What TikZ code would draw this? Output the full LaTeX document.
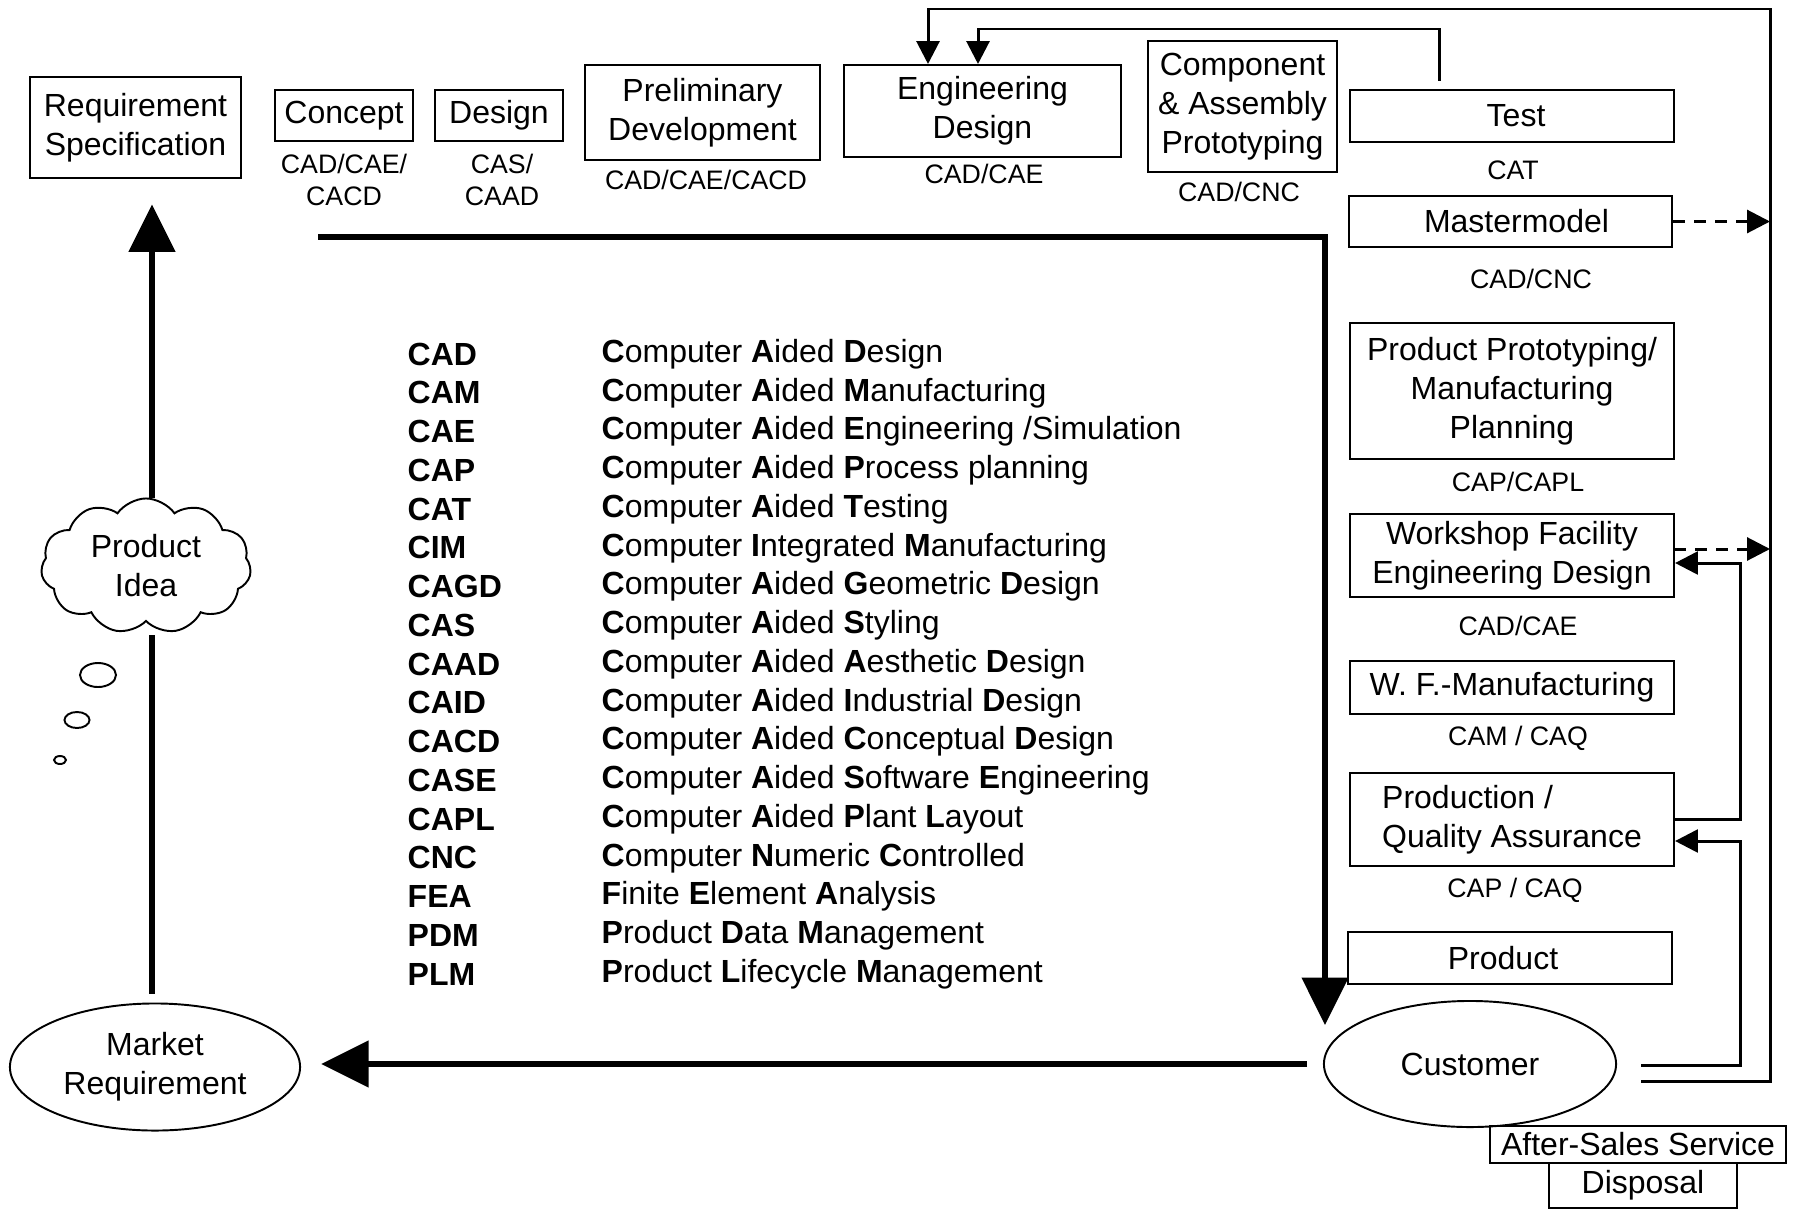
\documentclass[tikz,border=0pt]{standalone}
\usepackage{fontspec}
\setmainfont{Liberation Sans}
\usetikzlibrary{arrows.meta,shapes.geometric,shapes.symbols,calc}
\newcommand\bxf{\fontsize{9.1}{11.1}\selectfont}
\newcommand\lbf{\fontsize{7.6}{9.1}\selectfont}
\newcommand\lgf{\fontsize{9.1}{11}\selectfont}
\begin{document}
\begin{tikzpicture}[x=0.01cm,y=-0.01cm,
 box/.style={draw, line width=0.55pt, inner sep=0pt, align=center, font=\bxf},
 lbl/.style={inner sep=0pt, align=center, font=\lbf},
 oval/.style={draw, ellipse, line width=0.55pt, inner sep=0pt, align=center, font=\bxf},
 thk/.style={line width=1.6pt},
 thn/.style={line width=0.85pt},
 bigtip/.style={-{Triangle[length=13.5pt,width=13pt]}},
 smtip/.style={-{Triangle[length=6.5pt,width=6.5pt]}},
 dsh/.style={thn, dash pattern=on 3.4pt off 2.6pt},
 abbr/.style={anchor=west, inner sep=0pt, font=\lgf\bfseries},
 defn/.style={anchor=west, inner sep=0pt, font=\lgf}]
\useasboundingbox (0,0) rectangle (1794,1212);

% top row
\node[box, minimum width=2.11cm, minimum height=1.01cm] (reqspec) at (135.5,127.5) {Requirement\\Specification};
\node[box, minimum width=1.38cm, minimum height=0.51cm] (concept) at (344,115.5) {Concept};
\node[lbl] (conceptl) at (344,180) {CAD/CAE/\\CACD};
\node[box, minimum width=1.28cm, minimum height=0.51cm] (design) at (499,115.5) {Design};
\node[lbl] (designl) at (502,180) {CAS/\\CAAD};
\node[box, minimum width=2.35cm, minimum height=0.95cm] (prelim) at (702.5,112.5) {Preliminary\\Development};
\node[lbl] (preliml) at (706,180) {CAD/CAE/CACD};
\node[box, minimum width=2.77cm, minimum height=0.92cm] (engdes) at (982.5,111) {Engineering\\Design};
\node[lbl] (engdesl) at (984,174) {CAD/CAE};
\node[box, minimum width=1.89cm, minimum height=1.31cm] (comp) at (1242.5,106.5) {Component\\\& Assembly\\Prototyping};
\node[lbl] (compl) at (1239,192) {CAD/CNC};

% right column
\node[box, minimum width=3.24cm, minimum height=0.52cm] (test) at (1512,116) {\hspace*{0.08cm}Test};
\node[lbl] (testl) at (1513,170) {CAT};
\node[box, minimum width=3.23cm, minimum height=0.51cm] (master) at (1510.5,221.5) {\hspace*{0.12cm}Mastermodel};
\node[lbl] (masterl) at (1531,279) {CAD/CNC};
\node[box, minimum width=3.24cm, minimum height=1.36cm] (pproto) at (1512,391) {Product Prototyping/\\Manufacturing\\Planning};
\node[lbl] (pprotol) at (1518,482) {CAP/CAPL};
\node[box, minimum width=3.24cm, minimum height=0.83cm] (workshop) at (1512,555.5) {Workshop Facility\\Engineering Design};
\node[lbl] (workshopl) at (1518,626) {CAD/CAE};
\node[box, minimum width=3.24cm, minimum height=0.53cm] (wfman) at (1512,687.5) {W. F.-Manufacturing};
\node[lbl] (wfmanl) at (1518,738) {CAM / CAQ};
\node[box, align=left, minimum width=3.24cm, minimum height=0.93cm] (prodqa) at (1512,819.5) {Production /\\Quality Assurance};
\node[lbl] (prodqal) at (1515,890) {CAP / CAQ};
\node[box, minimum width=3.24cm, minimum height=0.52cm] (product) at (1510,958) {Product\hspace*{0.14cm}};

% bottom
\node[oval, minimum width=2.92cm, minimum height=1.26cm] (customer) at (1470,1064) {Customer};
\node[box, minimum width=2.96cm, minimum height=0.37cm] (after) at (1638,1144.5) {After-Sales Service};
\node[box, minimum width=1.88cm, minimum height=0.45cm] (disposal) at (1643,1185.5) {Disposal};
\node[oval, minimum width=2.9cm, minimum height=1.27cm] (market) at (155,1067) {Market\\Requirement};

% left: idea cloud and bubbles
\coordinate (lx) at (152,0);
\node[cloud, draw, fill=white, line width=0.55pt, cloud puffs=11, cloud puff arc=110, aspect=1.5,
      minimum width=2.1cm, minimum height=1.35cm, inner sep=0pt, align=center, font=\bxf] (idea) at (146,566) {Product\\Idea};
\node[draw, ellipse, line width=0.55pt, minimum width=0.36cm, minimum height=0.24cm, inner sep=0pt] (b1) at (98,675) {};
\node[draw, ellipse, line width=0.55pt, minimum width=0.25cm, minimum height=0.16cm, inner sep=0pt] (b2) at (77,720) {};
\node[draw, ellipse, line width=0.55pt, minimum width=0.12cm, minimum height=0.08cm, inner sep=0pt] (b3) at (60,760) {};

\draw[thk, shorten <=2.5pt, shorten >=3.5pt] (market.north -| lx) -- (idea.south -| lx);
\draw[thk, bigtip, shorten >=7.2pt] (idea.north -| lx) -- (reqspec.south -| lx);

% big process line
\coordinate (bstart) at (318,237);
\coordinate (bcorner) at (1325,237);
\coordinate (btip) at (1325,1025);
\draw[thk, bigtip] (bstart) -- (bcorner) -- (btip);

% customer to market
\draw[thk, bigtip, shorten <=4.5pt, shorten >=5.7pt] (customer.west) -- (customer.west -| market.east);

% outer feedback loop
\coordinate (c1) at (1641,1081);
\coordinate (o1) at (1770,1081);
\coordinate (o2) at (1770,9);
\coordinate (o3) at (928,9);
\draw[thn, smtip] (c1) -- (o1) -- (o2) -- (o3) -- (o3 |- engdes.north);

% test feedback loop
\coordinate (i1) at (1439,29);
\coordinate (i2) at (978,29);
\draw[thn, smtip, shorten <=2.3pt] (test.north -| i1) -- (i1) -- (i2) -- (i2 |- engdes.north);

% dashed arrows
\draw[dsh, smtip] (master.east) -- (master.east -| o1);
\coordinate (wd) at (1674,549);
\draw[dsh, smtip] (wd) -- (wd -| o1);

% production -> workshop
\coordinate (r1) at (1740,563);
\draw[thn, smtip] (prodqa.east) -| (r1) -- (r1 -| workshop.east);
% customer -> production
\coordinate (c2) at (1641,1065);
\coordinate (r2) at (1740,841);
\draw[thn, smtip] (c2) -| (r2) -- (r2 -| prodqa.east);

% legend
\foreach \a/\d [count=\i] in {
 {CAD}/{\textbf{C}omputer \textbf{A}ided \textbf{D}esign},
 {CAM}/{\textbf{C}omputer \textbf{A}ided \textbf{M}anufacturing},
 {CAE}/{\textbf{C}omputer \textbf{A}ided \textbf{E}ngineering /Simulation},
 {CAP}/{\textbf{C}omputer \textbf{A}ided \textbf{P}rocess planning},
 {CAT}/{\textbf{C}omputer \textbf{A}ided \textbf{T}esting},
 {CIM}/{\textbf{C}omputer \textbf{I}ntegrated \textbf{M}anufacturing},
 {CAGD}/{\textbf{C}omputer \textbf{A}ided \textbf{G}eometric \textbf{D}esign},
 {CAS}/{\textbf{C}omputer \textbf{A}ided \textbf{S}tyling},
 {CAAD}/{\textbf{C}omputer \textbf{A}ided \textbf{A}esthetic \textbf{D}esign},
 {CAID}/{\textbf{C}omputer \textbf{A}ided \textbf{I}ndustrial \textbf{D}esign},
 {CACD}/{\textbf{C}omputer \textbf{A}ided \textbf{C}onceptual \textbf{D}esign},
 {CASE}/{\textbf{C}omputer \textbf{A}ided \textbf{S}oftware \textbf{E}ngineering},
 {CAPL}/{\textbf{C}omputer \textbf{A}ided \textbf{P}lant \textbf{L}ayout},
 {CNC}/{\textbf{C}omputer \textbf{N}umeric \textbf{C}ontrolled},
 {FEA}/{\textbf{F}inite \textbf{E}lement \textbf{A}nalysis},
 {PDM}/{\textbf{P}roduct \textbf{D}ata \textbf{M}anagement},
 {PLM}/{\textbf{P}roduct \textbf{L}ifecycle \textbf{M}anagement}} {
  \node[abbr] (ab\i) at (407,{354+38.76*(\i-1)}) {\a};
  \node[defn] (df\i) at (601,{354+38.76*(\i-1)}) {\d};
}
\end{tikzpicture}
\end{document}
